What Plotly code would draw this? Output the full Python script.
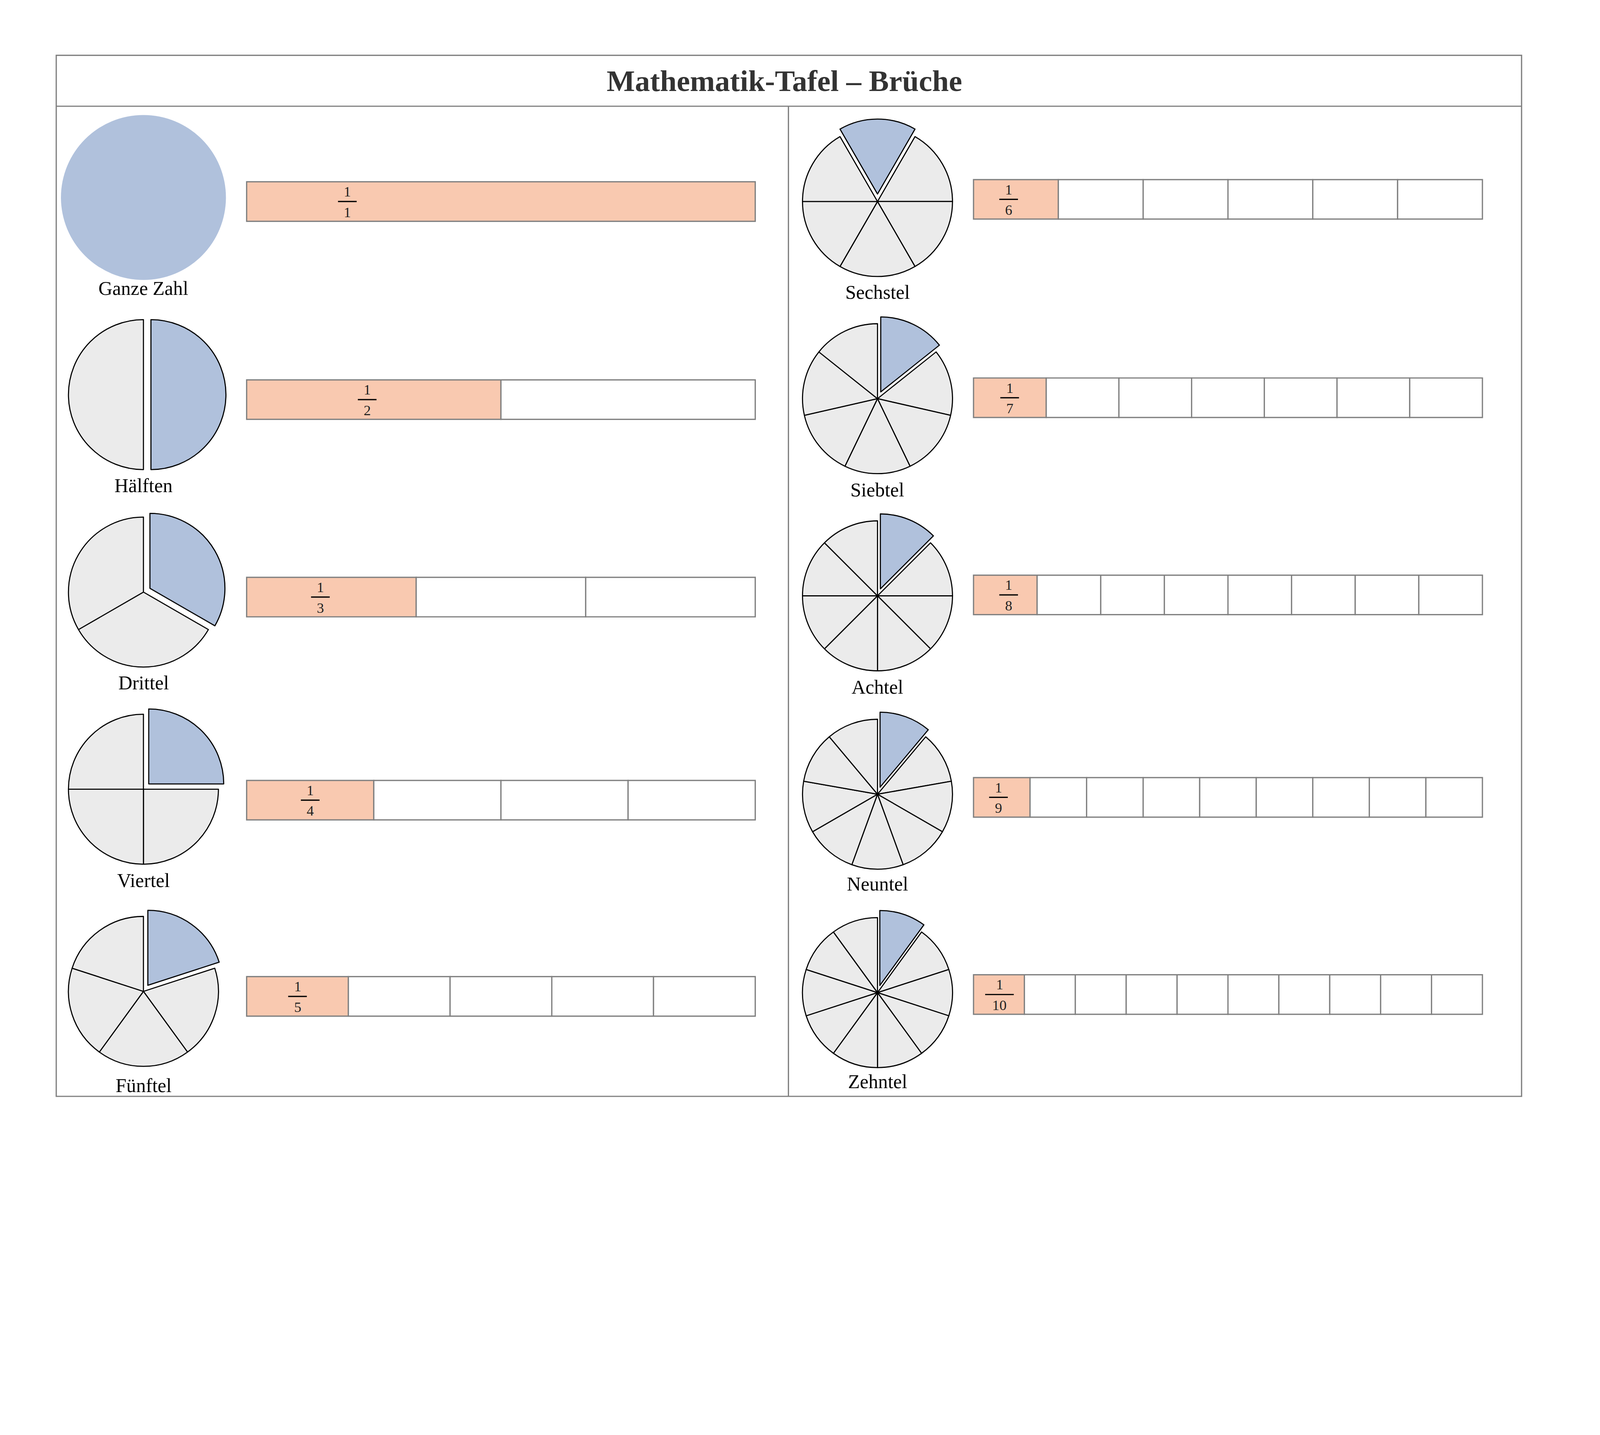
import plotly.graph_objects as go

W, H = 5000, 3674          # reference pixel grid
S = 0.8                    # CSS px per reference px
denominators = [1, 2, 3, 4, 5, 6, 7, 8, 9, 10]
names = ["Ganze Zahl", "Hälften", "Drittel", "Viertel", "Fünftel",
         "Sechstel", "Siebtel", "Achtel", "Neuntel", "Zehntel"]
title = "Mathematik-Tafel – Brüche"

# layout (reference pixels)
pie_cx = [449]*5 + [2798]*5
pie_cy = [622, 1253, 1885, 2516, 3163, 635, 1266, 1897, 2532, 3167]
label_y = [913, 1545, 2176, 2808, 3465, 926, 1558, 2189, 2820, 3452]
pie_rot = [0, 0, 0, 0, 0, -30, 0, 0, 0, 0]
bar_x0 = [776]*5 + [3102]*5
bar_x1 = [2410]*5 + [4737]*5
bar_cy = [635, 1269, 1901, 2551, 3179, 628, 1263, 1894, 2542, 3173]
frac_pos = [0.198, 0.237, 0.145, 0.125, 0.1, 0.069, 0.071, 0.069, 0.049, 0.051]
R = 240
PULL = 0.1
BAR_H = 126

BLUE = "#b0c1dc"; GREY = "#ebebeb"; ORANGE = "#f9c9b0"; LINE = "#808080"
FONT = "Liberation Serif"

def px(x): return x / W
def py(y): return 1 - y / H

fig = go.Figure()
shapes = []
annotations = []

for i, n in enumerate(denominators):
    half = R * (1 + PULL)
    fig.add_trace(go.Pie(
        values=[1]*n, sort=False, direction="clockwise", rotation=pie_rot[i],
        marker=dict(colors=[BLUE] + [GREY]*(n-1),
                    line=dict(color="black", width=0 if n == 1 else 3.5*S)),
        pull=[PULL if n > 1 else 0] + [0]*(n-1),
        textinfo="none", hoverinfo="skip", showlegend=False,
        domain=dict(x=[px(pie_cx[i]-half), px(pie_cx[i]+half)],
                    y=[py(pie_cy[i]+half), py(pie_cy[i]-half)])))
    annotations.append(dict(x=px(pie_cx[i]), y=py(label_y[i]), xref="paper", yref="paper",
                            text=names[i], showarrow=False, xanchor="center", yanchor="middle",
                            font=dict(family=FONT, size=62*S, color="black")))
    k = i + 1
    xa, ya = ("xaxis" if k == 1 else f"xaxis{k}"), ("yaxis" if k == 1 else f"yaxis{k}")
    xr, yr = ("x" if k == 1 else f"x{k}"), ("y" if k == 1 else f"y{k}")
    fig.add_trace(go.Bar(
        x=[1/n]*n, base=[j/n for j in range(n)], y=[0]*n, orientation="h", width=1,
        marker=dict(color=[ORANGE] + ["white"]*(n-1), line=dict(color=LINE, width=4*S)),
        hoverinfo="skip", showlegend=False, xaxis=xr, yaxis=yr))
    fig.layout[xa] = dict(domain=[px(bar_x0[i]), px(bar_x1[i])], range=[-0.002, 1.002],
                          visible=False, anchor=yr, fixedrange=True)
    fig.layout[ya] = dict(domain=[py(bar_cy[i]+BAR_H/2+4), py(bar_cy[i]-BAR_H/2-4)],
                          range=[-0.53, 0.53], visible=False, anchor=xr, fixedrange=True)
    fx = frac_pos[i]
    for txt, yy in (("1", 0.25), (str(n), -0.27)):
        annotations.append(dict(x=fx, y=yy, xref=xr, yref=yr, text=txt, showarrow=False,
                                xanchor="center",
                                font=dict(family=FONT, size=46*S, color="#222")))
    hw = (30 if n < 10 else 46) / (bar_x1[i]-bar_x0[i])
    shapes.append(dict(type="line", xref=xr, yref=yr, x0=fx-hw, x1=fx+hw, y0=0.0, y1=0.0,
                       line=dict(color="black", width=4*S)))

shapes += [
    dict(type="rect", xref="paper", yref="paper", x0=px(170), x1=px(4859), y0=py(3499), y1=py(167),
         line=dict(color=LINE, width=4*S)),
    dict(type="line", xref="paper", yref="paper", x0=px(170), x1=px(4859), y0=py(330), y1=py(330),
         line=dict(color=LINE, width=4*S)),
    dict(type="line", xref="paper", yref="paper", x0=px(2513), x1=px(2513), y0=py(3499), y1=py(330),
         line=dict(color=LINE, width=4*S)),
]
annotations.append(dict(x=0.5, y=py(249), xref="paper", yref="paper", text=f"<b>{title}</b>",
                        showarrow=False, xanchor="center", yanchor="middle",
                        font=dict(family=FONT, size=96*S, color="#333")))

fig.update_layout(width=round(W*S), height=round(H*S), margin=dict(l=0, r=0, t=0, b=0),
                  paper_bgcolor="white", plot_bgcolor="rgba(0,0,0,0)",
                  shapes=shapes, annotations=annotations, barmode="overlay")
fig.write_html("out.html")
